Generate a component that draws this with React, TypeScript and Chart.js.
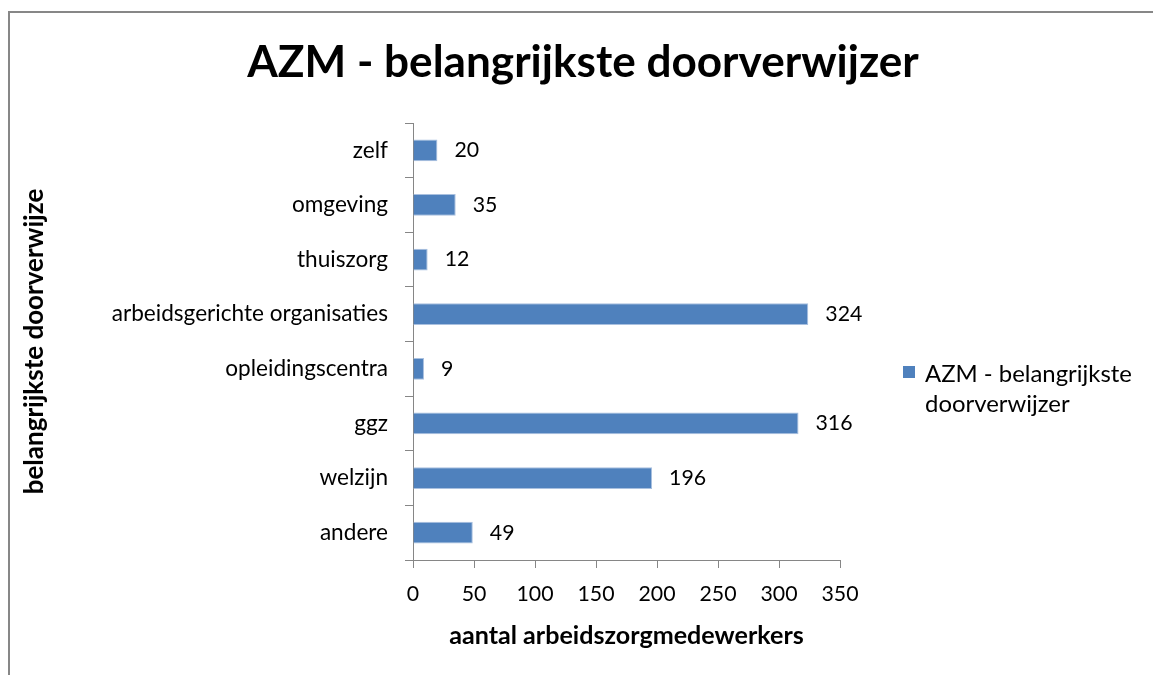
import { useEffect, useRef } from 'react';
import { Chart, registerables } from 'chart.js';

Chart.register(...registerables);

const chartTitle = 'AZM - belangrijkste doorverwijzer';
const seriesName = 'AZM - belangrijkste doorverwijzer';
const legendLines = ['AZM - belangrijkste', 'doorverwijzer'];
const categories = [
  'zelf',
  'omgeving',
  'thuiszorg',
  'arbeidsgerichte organisaties',
  'opleidingscentra',
  'ggz',
  'welzijn',
  'andere',
];
const values = [20, 35, 12, 324, 9, 316, 196, 49];
const xTickValues = [0, 50, 100, 150, 200, 250, 300, 350];
const xAxisTitle = 'aantal arbeidszorgmedewerkers';
const yAxisTitle = 'belangrijkste doorverwijze';

const FAMILY = 'Lato, "Open Sans", sans-serif';

function fitSize(text: string, bold: boolean, target: number): number {
  const c = document.createElement('canvas').getContext('2d')!;
  c.font = `${bold ? 'bold ' : ''}100px ${FAMILY}`;
  const w = c.measureText(text).width;
  return Math.round((100 * target / w) * 10) / 10;
}

export default function App() {
  const ref = useRef<HTMLCanvasElement | null>(null);

  useEffect(() => {
    const canvas = ref.current!;
    const labelSize = fitSize('arbeidsgerichte organisaties', false, 276);
    const numSize = fitSize('100', false, 37);
    const legendSize = fitSize(legendLines[0], false, 207);
    const titleSize = fitSize(chartTitle, true, 672);
    const xTitleSize = fitSize(xAxisTitle, true, 354);
    const yTitleSize = fitSize(yAxisTitle, true, 305);

    const decor = {
      id: 'decor',
      afterDraw(chart: any) {
        const ctx = chart.ctx as CanvasRenderingContext2D;
        const area = chart.chartArea;
        ctx.save();
        ctx.fillStyle = '#000';
        // title
        ctx.font = `bold ${titleSize}px ${FAMILY}`;
        ctx.textAlign = 'center';
        ctx.textBaseline = 'alphabetic';
        ctx.fillText(chartTitle, 573, 64);
        // x axis title
        ctx.font = `bold ${xTitleSize}px ${FAMILY}`;
        ctx.textBaseline = 'middle';
        ctx.fillText(xAxisTitle, (area.left + area.right) / 2, 623);
        // y axis title
        ctx.save();
        ctx.translate(25, (area.top + area.bottom) / 2);
        ctx.rotate(-Math.PI / 2);
        ctx.font = `bold ${yTitleSize}px ${FAMILY}`;
        ctx.fillText(yAxisTitle, 0, 0);
        ctx.restore();
        // data labels
        ctx.font = `${numSize}px ${FAMILY}`;
        ctx.textAlign = 'left';
        ctx.textBaseline = 'middle';
        const meta = chart.getDatasetMeta(0);
        meta.data.forEach((el: any, i: number) => {
          ctx.fillText(String(values[i]), el.x + 17, el.y);
        });
        // legend
        ctx.fillStyle = '#4F81BD';
        ctx.fillRect(893, 353, 12, 12);
        ctx.fillStyle = '#000';
        ctx.font = `${legendSize}px ${FAMILY}`;
        legendLines.forEach((line, i) => {
          ctx.fillText(line, 915, 361 + i * 30);
        });
        ctx.restore();
      },
    };

    const chart = new Chart(canvas, {
      type: 'bar',
      data: {
        labels: categories,
        datasets: [
          {
            label: seriesName,
            data: values,
            backgroundColor: '#4F81BD',
            borderColor: '#A9C0DF',
            borderWidth: 1,
            barPercentage: 0.4,
            categoryPercentage: 1,
          },
        ],
      },
      options: {
        animation: false,
        responsive: false,
        maintainAspectRatio: false,
        indexAxis: 'y',
        layout: { padding: { top: 110, right: 313, bottom: 0, left: 0 } },
        plugins: {
          legend: { display: false },
          title: { display: false },
          tooltip: { enabled: false },
        },
        scales: {
          x: {
            type: 'linear',
            min: 0,
            max: 350,
            afterBuildTicks: (s: any) => {
              s.ticks = xTickValues.map((v) => ({ value: v }));
            },
            afterFit: (s: any) => {
              s.height = 115;
            },
            grid: { drawOnChartArea: false, tickLength: 8, color: '#868686' },
            border: { color: '#868686', width: 1 },
            ticks: {
              color: '#000',
              font: { family: FAMILY, size: numSize },
              padding: 13,
              maxRotation: 0,
            },
          },
          y: {
            type: 'category',
            afterFit: (s: any) => {
              s.width = 403;
            },
            grid: { drawOnChartArea: false, tickLength: 8, color: '#868686', offset: true },
            border: { color: '#868686', width: 1 },
            ticks: {
              color: '#000',
              font: { family: FAMILY, size: labelSize },
              padding: 17,
              autoSkip: false,
            },
          },
        },
      },
      plugins: [decor],
    } as any);

    return () => chart.destroy();
  }, []);

  return (
    <div
      style={{
        position: 'fixed',
        left: 8,
        top: 11,
        width: 1145,
        height: 664,
        boxSizing: 'border-box',
        borderLeft: '2px solid #878787',
        borderTop: '2px solid #878787',
        background: '#fff',
        overflow: 'hidden',
      }}
    >
      <canvas ref={ref} width={1143} height={662} style={{ display: 'block', width: 1143, height: 662 }} />
    </div>
  );
}
